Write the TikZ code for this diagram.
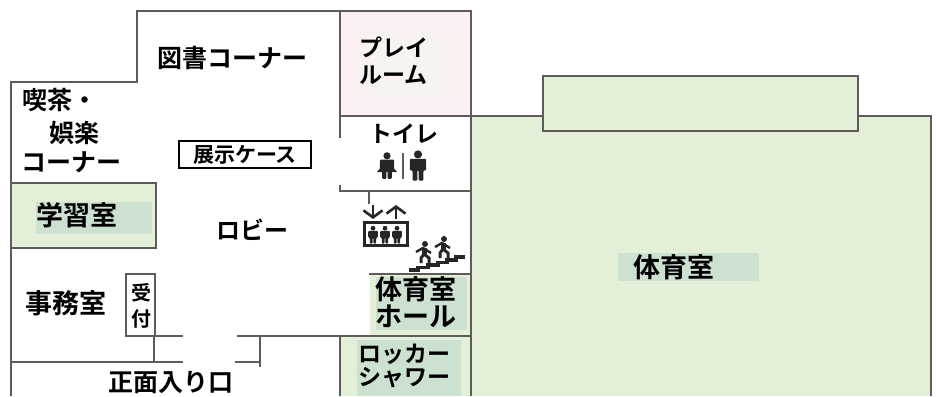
\documentclass[tikz,border=0pt]{standalone}
\usepackage{fontspec}
\usetikzlibrary{arrows.meta}
\newfontfamily\jp{Noto Sans CJK JP Bold}
\definecolor{wall}{HTML}{5E5C58}
\definecolor{roomgreen}{HTML}{E3EFD6}
\definecolor{labelgreen}{HTML}{CDE1D0}
\definecolor{roompink}{HTML}{FBF0F4}
\definecolor{labelpink}{HTML}{F8F2F1}
\definecolor{icon}{HTML}{262626}
\tikzset{
	wallline/.style={draw=wall, line width=1.4pt},
	room/.style={font=\jp\fontsize{25}{25}\selectfont, text=black, inner sep=0pt},
	bigroom/.style={font=\jp\fontsize{27}{27}\selectfont, text=black, inner sep=0pt},
	smallroom/.style={font=\jp\fontsize{23}{23}\selectfont, text=black, inner sep=0pt},
	person/.style={fill=icon, draw=none},
	liftarrow/.style={icon, line width=2.6pt, -{Straight Barb[length=7pt,width=19pt]}}
}
\newcommand{\personicon}[3]{% x, y, scale
	\fill[person] (#1,#2-6.8*#3) circle (2.4*#3);
	\fill[person, rounded corners=1pt] (#1-4.8*#3,#2+2.6*#3) -- (#1-4.8*#3,#2-4.2*#3) -- (#1+4.8*#3,#2-4.2*#3) -- (#1+4.8*#3,#2+2.6*#3) -- (#1+3.2*#3,#2+2.6*#3) -- (#1+3.2*#3,#2+8.6*#3) -- (#1+0.4*#3,#2+8.6*#3) -- (#1+0.4*#3,#2+2.6*#3) -- (#1-0.4*#3,#2+2.6*#3) -- (#1-0.4*#3,#2+8.6*#3) -- (#1-3.2*#3,#2+8.6*#3) -- (#1-3.2*#3,#2+2.6*#3) -- cycle;
}
\newcommand{\runnericon}[2]{% x, y
	\fill[person] (#1+1,#2-8) circle (3);
	\draw[icon, line width=5pt] (#1,#2-4) -- (#1,#2+2);
	\draw[icon, line width=2.4pt] (#1-8,#2) -- (#1-1,#2-4) -- (#1+7,#2+1);
	\draw[icon, line width=3pt] (#1,#2+2) -- (#1+5,#2+6) -- (#1+5,#2+11);
	\draw[icon, line width=3pt] (#1,#2+2) -- (#1-3,#2+6) -- (#1-3,#2+11);
}
\begin{document}
\begin{tikzpicture}[x=1pt, y=-1pt]
	\useasboundingbox (0,0) rectangle (936,396);
	
	% coloured rooms
	\fill[roompink] (340,11) rectangle (471,116);
	\fill[labelpink] (357,33) rectangle (459,100);
	\fill[roomgreen] (11,183) rectangle (156,248);
	\fill[labelgreen] (36,202) rectangle (152,234);
	\fill[roomgreen] (370,274) rectangle (471,336);
	\fill[labelgreen] (376,277) rectangle (467,330);
	\fill[roomgreen] (340,336) rectangle (471,396);
	\fill[labelgreen] (357,340) rectangle (461,396);
	\fill[roomgreen] (471,116) rectangle (931,396);
	\fill[labelgreen] (618,253) rectangle (759,281);
	
	% walls
	\draw[wallline] (11,396) -- (11,82) -- (137,82) -- (137,11) -- (471,11) -- (471,396);
	\draw[wallline] (340,11) -- (340,138);
	\draw[wallline] (340,116) -- (543,116);
	\draw[wallline] (858,116) -- (931,116) -- (931,396);
	\draw[wallline] (340,185) -- (340,191) -- (471,191);
	\draw[wallline] (369,191) -- (369,204);
	\draw[wallline] (369,274) -- (471,274);
	\draw[wallline] (11,183) -- (156,183) -- (156,248) -- (11,248);
	\draw[wallline] (11,362) -- (183,362);
	\draw[wallline] (154,336) -- (154,362);
	\draw[wallline] (154,336) -- (183,336);
	\draw[wallline] (237,336) -- (471,336);
	\draw[wallline] (235,362) -- (260,362);
	\draw[wallline] (260,336) -- (260,367);
	\draw[wallline] (340,336) -- (340,396);
	
	% platform and boxes
	\draw[wallline, fill=roomgreen] (543,76) rectangle (858,131);
	\draw[wallline, fill=white] (126,274) rectangle (155,336);
	\draw[black, line width=1.5pt] (179,141) rectangle (311,168);
	
	% labels
	\node[room](LIB) at (232,58){図書コーナー};
	\node[room, anchor=west](CAFE1) at (22,100){喫茶・};
	\node[room, anchor=west](CAFE2) at (49,133){娯楽};
	\node[room, anchor=west](CAFE3) at (21,162){コーナー};
	\node[font=\jp\fontsize{21}{21}\selectfont, inner sep=0pt](CASE) at (245,155){展示ケース};
	\node[bigroom](STUDY) at (77,215){学習室};
	\node[font=\jp\fontsize{24}{24}\selectfont, inner sep=0pt](LOBBY) at (252,230){ロビー};
	\node[bigroom](OFFICE) at (66,303){事務室};
	\node[font=\jp\fontsize{20}{20}\selectfont, inner sep=0pt](DESK1) at (141,293){受};
	\node[font=\jp\fontsize{20}{20}\selectfont, inner sep=0pt](DESK2) at (141,319){付};
	\node[room](ENTRY) at (171,383){正面入り口};
	\node[smallroom, anchor=west](PLAY1) at (359,47){プレイ};
	\node[smallroom, anchor=west](PLAY2) at (359,75){ルーム};
	\node[smallroom](WC) at (404,134){トイレ};
	\node[bigroom](HALL1) at (416,289){体育室};
	\node[bigroom](HALL2) at (416,316){ホール};
	\node[smallroom, anchor=west](LOCK1) at (358,354){ロッカー};
	\node[smallroom, anchor=west](LOCK2) at (358,378){シャワー};
	\node[bigroom](GYM) at (674,267){体育室};
	
	% toilet
	\personicon{387}{166}{1.5}
	\fill[person] (387,160) -- (397,172) -- (377,172) -- cycle;
	\draw[wall, line width=2pt] (403,153) -- (403,179);
	\personicon{418}{166}{1.7}
	
	% lift
	\draw[liftarrow] (373,205) -- (373,219);
	\draw[liftarrow] (396,219) -- (396,205);
	\draw[icon, line width=3pt, fill=white] (364,222) rectangle (407,245);
	\foreach \px in {373,385,397}{
		\personicon{\px}{235}{1}
	}
	
	% stairs
	\draw[icon, line width=3.4pt] (409,270) -- (418,270) -- (418,267.5) -- (428,267.5) -- (428,265) -- (438,265) -- (438,262.5) -- (447,262.5) -- (447,260) -- (456,260) -- (456,257) -- (465,257);
	\runnericon{424}{252}
	\runnericon{443}{247}
\end{tikzpicture}
\end{document}
